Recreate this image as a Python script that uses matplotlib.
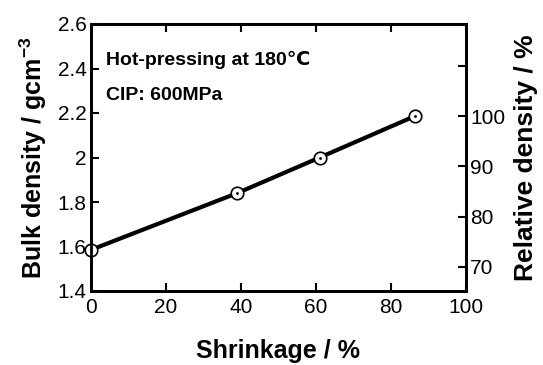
import matplotlib
matplotlib.use('Agg')
import matplotlib.pyplot as plt

# data
shrinkage = [0, 39, 61, 86.5]
bulk_density = [1.585, 1.84, 2.0, 2.187]
x_ticks = [0, 20, 40, 60, 80, 100]
y_ticks = [1.4, 1.6, 1.8, 2.0, 2.2, 2.4, 2.6]
y_labels = ['1.4', '1.6', '1.8', '2', '2.2', '2.4', '2.6']
rel_ticks = [70, 80, 90, 100, 110]
rel_labels = ['70', '80', '90', '100', '']

plt.rcParams['font.family'] = ['Liberation Sans', 'DejaVu Sans']
plt.rcParams['mathtext.fontset'] = 'custom'
plt.rcParams['mathtext.bf'] = 'Liberation Sans:bold'
plt.rcParams['mathtext.rm'] = 'Liberation Sans'

fig = plt.figure(figsize=(5.43, 3.65), dpi=100)
ax = fig.add_axes([91 / 543, 1 - 291 / 365, 375 / 543, 267 / 365])

ax.plot(shrinkage, bulk_density, color='black', lw=3, zorder=2)
ax.plot(shrinkage, bulk_density, 'o', ms=9, mfc='white', mec='black', mew=1.2, zorder=3, clip_on=False)
ax.plot(shrinkage, bulk_density, '.', ms=2, color='black', zorder=4, clip_on=False)

ax.set_xlim(0, 100)
ax.set_ylim(1.4, 2.6)
ax.set_xticks(x_ticks)
ax.set_yticks(y_ticks)
ax.set_yticklabels(y_labels)
ax.tick_params(direction='in', length=6, width=1.5, labelsize=15, top=True, pad=3)
ax.tick_params(axis='x', pad=5)
for s in ax.spines.values():
    s.set_linewidth(2)

ax.set_xlabel('Shrinkage / %', fontsize=18, fontweight='bold', labelpad=16)
ax.set_ylabel(r'Bulk density / gcm$^{\mathbf{-3}}$', fontsize=18, fontweight='bold', labelpad=6)

ax2 = ax.twinx()
ax2.set_ylim(65.2, 118.3)
ax2.set_yticks(rel_ticks)
ax2.set_yticklabels(rel_labels)
ax2.tick_params(direction='in', length=6, width=1.5, labelsize=15, pad=3)
for s in ax2.spines.values():
    s.set_linewidth(2)
ax2.set_ylabel('Relative density / %', fontsize=19, fontweight='bold', labelpad=6)

ax.text(4, 2.44, 'Hot-pressing at 180\u2103', fontsize=14, fontweight='bold', va='center')
ax.text(4, 2.28, 'CIP: 600MPa', fontsize=14, fontweight='bold', va='center')

fig.savefig('out.png', dpi=100)
